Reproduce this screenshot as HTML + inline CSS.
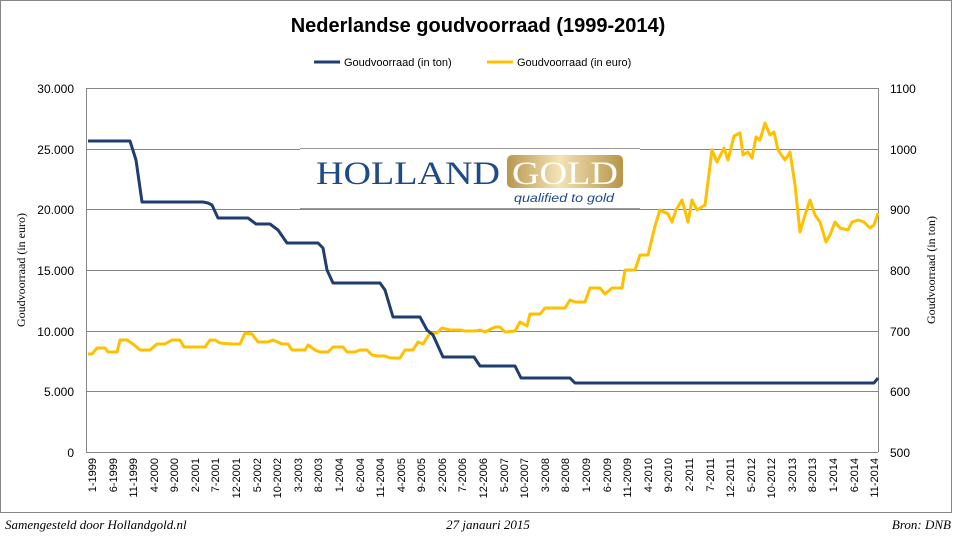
<!DOCTYPE html>
<html><head><meta charset="utf-8"><style>
body{margin:0;background:#fff;width:956px;height:537px;overflow:hidden}
svg{display:block}
</style></head><body>
<svg width="956" height="537" viewBox="0 0 956 537" xmlns="http://www.w3.org/2000/svg" font-family="Liberation Sans, sans-serif">
<rect x="0.5" y="0.5" width="951" height="512" fill="#fff" stroke="#868686"/>
<text x="478" y="32" text-anchor="middle" font-size="20" font-weight="bold" fill="#000">Nederlandse goudvoorraad (1999-2014)</text>
<line x1="314" y1="62" x2="340" y2="62" stroke="#1f3d6e" stroke-width="3"/>
<text x="344" y="66" font-size="11">Goudvoorraad (in ton)</text>
<line x1="487" y1="62" x2="513" y2="62" stroke="#ffc000" stroke-width="3"/>
<text x="517" y="66" font-size="11">Goudvoorraad (in euro)</text>
<g stroke="#868686" stroke-width="1">
<line x1="86" y1="88.5" x2="878" y2="88.5"/>
<line x1="86" y1="149.5" x2="878" y2="149.5"/>
<line x1="86" y1="209.5" x2="878" y2="209.5"/>
<line x1="86" y1="270.5" x2="878" y2="270.5"/>
<line x1="86" y1="331.5" x2="878" y2="331.5"/>
<line x1="86" y1="391.5" x2="878" y2="391.5"/>
<line x1="86" y1="452.5" x2="878" y2="452.5"/>
<line x1="86.5" y1="88" x2="86.5" y2="452"/>
<line x1="878.5" y1="88" x2="878.5" y2="452"/>
</g>
<g font-size="12" text-anchor="end">
<text x="74" y="93">30.000</text><text x="74" y="154">25.000</text><text x="74" y="214">20.000</text><text x="74" y="275">15.000</text><text x="74" y="336">10.000</text><text x="74" y="396">5.000</text><text x="74" y="457">0</text>
</g>
<g font-size="12">
<text x="890" y="93">1100</text><text x="890" y="154">1000</text><text x="890" y="214">900</text><text x="890" y="275">800</text><text x="890" y="336">700</text><text x="890" y="396">600</text><text x="890" y="457">500</text>
</g>
<text transform="translate(25,270) rotate(-90)" text-anchor="middle" font-family="Liberation Serif, serif" font-size="12">Goudvoorraad (in euro)</text>
<text transform="translate(935,270) rotate(-90)" text-anchor="middle" font-family="Liberation Serif, serif" font-size="12">Goudvoorraad (in ton)</text>
<g font-size="11" text-anchor="end">
<text transform="translate(96,458) rotate(-90)">1-1999</text>
<text transform="translate(117,458) rotate(-90)">6-1999</text>
<text transform="translate(137,458) rotate(-90)">11-1999</text>
<text transform="translate(158,458) rotate(-90)">4-2000</text>
<text transform="translate(178,458) rotate(-90)">9-2000</text>
<text transform="translate(199,458) rotate(-90)">2-2001</text>
<text transform="translate(219,458) rotate(-90)">7-2001</text>
<text transform="translate(240,458) rotate(-90)">12-2001</text>
<text transform="translate(261,458) rotate(-90)">5-2002</text>
<text transform="translate(281,458) rotate(-90)">10-2002</text>
<text transform="translate(302,458) rotate(-90)">3-2003</text>
<text transform="translate(322,458) rotate(-90)">8-2003</text>
<text transform="translate(343,458) rotate(-90)">1-2004</text>
<text transform="translate(364,458) rotate(-90)">6-2004</text>
<text transform="translate(384,458) rotate(-90)">11-2004</text>
<text transform="translate(405,458) rotate(-90)">4-2005</text>
<text transform="translate(425,458) rotate(-90)">9-2005</text>
<text transform="translate(446,458) rotate(-90)">2-2006</text>
<text transform="translate(466,458) rotate(-90)">7-2006</text>
<text transform="translate(487,458) rotate(-90)">12-2006</text>
<text transform="translate(508,458) rotate(-90)">5-2007</text>
<text transform="translate(528,458) rotate(-90)">10-2007</text>
<text transform="translate(549,458) rotate(-90)">3-2008</text>
<text transform="translate(569,458) rotate(-90)">8-2008</text>
<text transform="translate(590,458) rotate(-90)">1-2009</text>
<text transform="translate(611,458) rotate(-90)">6-2009</text>
<text transform="translate(631,458) rotate(-90)">11-2009</text>
<text transform="translate(652,458) rotate(-90)">4-2010</text>
<text transform="translate(672,458) rotate(-90)">9-2010</text>
<text transform="translate(693,458) rotate(-90)">2-2011</text>
<text transform="translate(714,458) rotate(-90)">7-2011</text>
<text transform="translate(734,458) rotate(-90)">12-2011</text>
<text transform="translate(755,458) rotate(-90)">5-2012</text>
<text transform="translate(775,458) rotate(-90)">10-2012</text>
<text transform="translate(796,458) rotate(-90)">3-2013</text>
<text transform="translate(816,458) rotate(-90)">8-2013</text>
<text transform="translate(837,458) rotate(-90)">1-2014</text>
<text transform="translate(858,458) rotate(-90)">6-2014</text>
<text transform="translate(878,458) rotate(-90)">11-2014</text>
</g>
<!-- logo -->
<rect x="300" y="148" width="340" height="61" fill="#fff"/>
<line x1="300" y1="148.5" x2="640" y2="148.5" stroke="#999"/>
<line x1="300" y1="208.5" x2="640" y2="208.5" stroke="#999"/>
<defs><linearGradient id="g" x1="0" x2="1" y1="0" y2="0"><stop offset="0" stop-color="#b8974e"/><stop offset="0.45" stop-color="#f3e3b5"/><stop offset="1" stop-color="#b89448"/></linearGradient></defs>
<text x="316" y="184" font-family="Liberation Serif, serif" font-size="33" fill="#1d4a8a" textLength="184" lengthAdjust="spacingAndGlyphs">HOLLAND</text>
<rect x="507" y="155" width="116" height="33" rx="5" fill="url(#g)"/>
<text x="512" y="184" font-family="Liberation Serif, serif" font-size="33" fill="#fff" textLength="106" lengthAdjust="spacingAndGlyphs">GOLD</text>
<text x="514" y="202" font-family="Liberation Sans, sans-serif" font-style="italic" font-size="12" fill="#1d4a8a" textLength="100" lengthAdjust="spacingAndGlyphs">qualified to gold</text>
<!-- series -->
<polyline fill="none" stroke="#ffc000" stroke-width="3" stroke-linejoin="round" points="88,354 92,354 97,348 105,348 108,352 117,352 120,340 127,340 133,344 140,350 150,350 157,344 165,344 172,340 180,340 184,347 198,347 205,347 210,340 215,340 220,343 232,344 240,344 245,333 252,334 258,342 268,342 273,340 282,344 288,344 292,350 300,350 305,350 308,345 315,350 320,352 328,352 333,347 343,347 347,352 355,352 360,350 367,350 372,355 378,356 385,356 390,358 400,358 405,350 413,350 418,342 423,344 430,333 437,333 442,328 450,330 460,330 465,331 475,331 480,330 485,332 495,327 500,327 505,332 515,331 520,322 527,326 530,314 540,314 545,308 565,308 570,300 575,302 585,302 590,288 600,288 605,294 612,288 622,288 625,270 635,270 640,255 648,255 655,226 660,210 668,214 672,222 676,210 682,200 688,222 692,200 697,210 705,205 712,150 717,162 724,148 728,160 734,136 740,133 743,155 748,152 752,158 756,137 760,140 765,123 770,135 774,132 778,150 785,160 790,152 795,185 800,232 805,215 810,200 815,215 820,222 826,242 830,235 835,222 840,228 848,230 852,222 858,220 864,222 870,228 874,225 878,213"/>
<polyline fill="none" stroke="#1f3d6e" stroke-width="3" stroke-linejoin="round" points="88,141 130,141 136,160 142,202 203,202 208,203 212,205 218,218 248,218 256,224 270,224 278,230 287,243 318,243 323,248 327,270 333,283 380,283 385,290 393,317 420,317 427,330 433,335 443,357 474,357 480,366 515,366 521,378 570,378 575,383 874,383 878,378"/>
<text x="5" y="529" font-family="Liberation Serif, serif" font-style="italic" font-size="13">Samengesteld door Hollandgold.nl</text>
<text x="488" y="529" text-anchor="middle" font-family="Liberation Serif, serif" font-style="italic" font-size="13">27 janauri 2015</text>
<text x="951" y="529" text-anchor="end" font-family="Liberation Serif, serif" font-style="italic" font-size="13">Bron: DNB</text>
</svg>
</body></html>
